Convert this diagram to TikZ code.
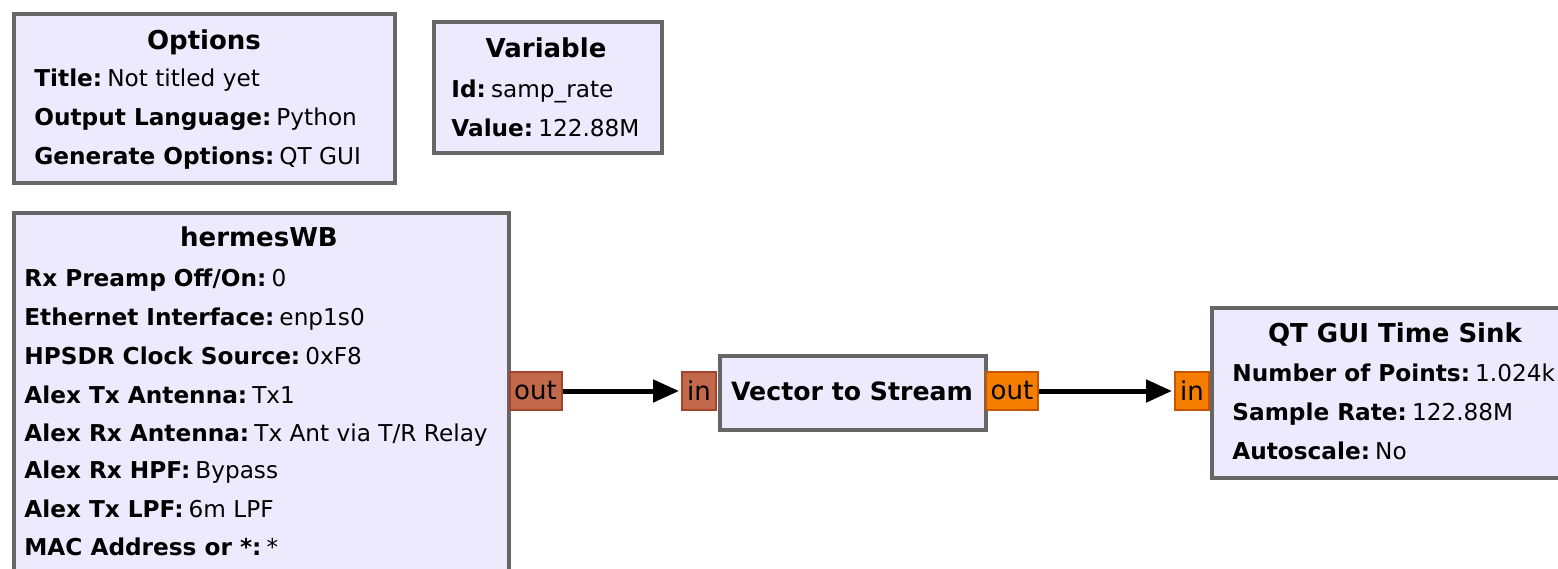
\documentclass[tikz,border=0pt]{standalone}
\usepackage{fontspec}
\setmainfont{DejaVu Sans}
\usetikzlibrary{arrows.meta}
\definecolor{blockfill}{HTML}{EEEAFD}
\definecolor{blockline}{HTML}{666666}
\definecolor{cportfill}{HTML}{C3694B}
\definecolor{cportline}{HTML}{A0442E}
\definecolor{fportfill}{HTML}{F57D00}
\definecolor{fportline}{HTML}{C65400}
\tikzset{
  block/.style={draw=blockline, line width=2.2pt, fill=blockfill, inner sep=0pt, anchor=north west},
  blocktitle/.style={inner sep=0pt, anchor=base, font=\fontsize{13}{15}\selectfont\bfseries},
  param/.style={inner sep=0pt, anchor=base west, font=\fontsize{11.6}{14}\selectfont},
  port/.style={line width=1pt, inner sep=0pt, minimum height=19pt, font=\fontsize{13}{15}\selectfont},
  cport/.style={port, draw=cportline, fill=cportfill},
  fport/.style={port, draw=fportline, fill=fportfill},
  flow/.style={line width=2.5pt, -{Triangle[length=13pt,width=11pt]}, shorten >=1pt},
}
\newcommand{\prm}[2]{\textbf{#1:}\hspace{0.22em}#2}
\begin{document}
\begin{tikzpicture}[x=0.5pt,y=-0.5pt]
\useasboundingbox (0,0) rectangle (1558,568);
\clip (0,0) rectangle (1558,568);

% Options block
\node[block, minimum width=190.5pt, minimum height=84.5pt] (options) at (12,12) {};
\node[blocktitle] (options-title) at (204,49) {Options};
\node[param] (options-p1) at (34,86) {\prm{Title}{Not titled yet}};
\node[param] (options-p2) at (34,125) {\prm{Output Language}{Python}};
\node[param] (options-p3) at (34,164) {\prm{Generate Options}{QT GUI}};

% Variable block
\node[block, minimum width=114pt, minimum height=65.5pt] (variable) at (432,20) {};
\node[blocktitle] (variable-title) at (546,57) {Variable};
\node[param] (variable-p1) at (451,97) {\prm{Id}{samp\_rate}};
\node[param] (variable-p2) at (451,136) {\prm{Value}{122.88M}};

% hermesWB source block
\node[block, minimum width=247.5pt, minimum height=200pt] (hermes) at (12,211) {};
\node[blocktitle] (hermes-title) at (259,246) {hermesWB};
\node[param] (hermes-p1) at (24,286) {\prm{Rx Preamp Off/On}{0}};
\node[param] (hermes-p2) at (24,325) {\prm{Ethernet Interface}{enp1s0}};
\node[param] (hermes-p3) at (24,364) {\prm{HPSDR Clock Source}{0xF8}};
\node[param] (hermes-p4) at (24,403) {\prm{Alex Tx Antenna}{Tx1}};
\node[param] (hermes-p5) at (24,441) {\prm{Alex Rx Antenna}{Tx Ant via T/R Relay}};
\node[param] (hermes-p6) at (24,478) {\prm{Alex Rx HPF}{Bypass}};
\node[param] (hermes-p7) at (24,517) {\prm{Alex Tx LPF}{6m LPF}};
\node[param] (hermes-p8) at (24,555) {\prm{MAC Address or *}{*}};

% Vector to Stream block
\node[block, minimum width=133pt, minimum height=37pt] (v2s) at (718,354) {};
\node[blocktitle, font=\fontsize{12.6}{15}\selectfont\bfseries] (v2s-title) at (852,400) {Vector to Stream};

% QT GUI Time Sink block
\node[block, minimum width=200pt, minimum height=85pt] (sink) at (1210,306) {};
\node[blocktitle] (sink-title) at (1395,342) {QT GUI Time Sink};
\node[param] (sink-p1) at (1232,381) {\prm{Number of Points}{1.024k}};
\node[param] (sink-p2) at (1232,420) {\prm{Sample Rate}{122.88M}};
\node[param] (sink-p3) at (1232,459) {\prm{Autoscale}{No}};

% Ports
\node[cport, minimum width=26pt] (hermes-out) at (535.5,391) {out};
\node[cport, minimum width=17pt] (v2s-in) at (699,391) {in};
\node[fport, minimum width=26pt] (v2s-out) at (1012,391) {out};
\node[fport, minimum width=17pt] (sink-in) at (1192,391) {in};

% Connections
\draw[flow] (hermes-out) -- (v2s-in);
\draw[flow] (v2s-out) -- (sink-in);
\end{tikzpicture}
\end{document}
